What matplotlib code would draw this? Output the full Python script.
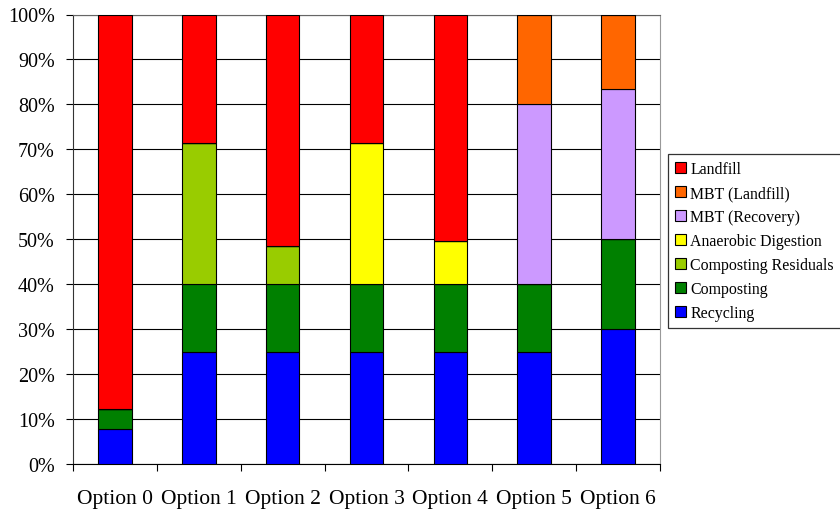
import matplotlib.pyplot as plt
import numpy as np
from matplotlib.ticker import FixedLocator, PercentFormatter

plt.rcParams['font.family'] = ['Liberation Serif', 'DejaVu Serif']

options = ['Option 0', 'Option 1', 'Option 2', 'Option 3', 'Option 4', 'Option 5', 'Option 6']

# shares of waste (%) per treatment route, stacked bottom to top
recycling = [7.7, 25, 25, 25, 25, 25, 30]
composting = [4.5, 15, 15, 15, 15, 15, 20]
composting_residuals = [0, 31.5, 8.5, 0, 0, 0, 0]
anaerobic_digestion = [0, 0, 0, 31.5, 9.5, 0, 0]
mbt_recovery = [0, 0, 0, 0, 0, 40.2, 33.5]
mbt_landfill = [0, 0, 0, 0, 0, 19.8, 16.5]
landfill = [87.8, 28.5, 51.5, 28.5, 50.5, 0, 0]

series = [
	('Recycling', recycling, '#0000FF'),
	('Composting', composting, '#008000'),
	('Composting Residuals', composting_residuals, '#99CC00'),
	('Anaerobic Digestion', anaerobic_digestion, '#FFFF00'),
	('MBT (Recovery)', mbt_recovery, '#CC99FF'),
	('MBT (Landfill)', mbt_landfill, '#FF6600'),
	('Landfill', landfill, '#FF0000'),
]

fig = plt.figure(figsize=(8.4, 5.1), dpi=100)
ax = fig.add_axes([73/840, 1-465/510, (660-73)/840, (465-15.5)/510])

x = np.arange(len(options))
bottom = np.zeros(len(options))
handles = []
for name, vals, col in series:
	vals = np.array(vals, dtype=float)
	b = ax.bar(x, vals, width=0.4, bottom=bottom, color=col, edgecolor='black',
			   linewidth=0.8, label=name, zorder=3)
	handles.append(b)
	bottom += vals

ax.set_xlim(-0.5, len(options)-0.5)
ax.set_ylim(0, 100)
ax.yaxis.set_major_locator(FixedLocator(np.arange(0, 101, 10)))
ax.yaxis.set_major_formatter(PercentFormatter(decimals=0))
ax.yaxis.grid(True, color='black', linewidth=0.8, zorder=0)
ax.tick_params(axis='y', direction='out', length=5, width=0.8, pad=8, labelsize=14.5)

# ticks at category edges, labels at category centres
ax.set_xticks(np.arange(len(options)+1)-0.5)
ax.set_xticklabels([])
ax.set_xticks(x, minor=True)
ax.set_xticklabels(options, minor=True)
ax.tick_params(axis='x', which='major', direction='out', length=5, width=0.8)
ax.tick_params(axis='x', which='minor', length=0, pad=18, labelsize=15.5)

ax.spines['left'].set_color('#333333')
ax.spines['bottom'].set_color('black')
ax.spines['right'].set_color('#999999')
ax.spines['top'].set_color('#666666')
for s in ax.spines.values():
	s.set_linewidth(0.8)

leg = fig.legend(handles[::-1], [s[0] for s in series][::-1], loc='upper left',
				 bbox_to_anchor=(668/840, 1-155/510), fontsize=11.4, frameon=True,
				 fancybox=False, edgecolor='black', handlelength=0.7, handleheight=0.7,
				 handletextpad=0.25, labelspacing=0.5, borderpad=0.45, borderaxespad=0)
leg.get_frame().set_linewidth(0.9)

fig.savefig('out.png', dpi=100)
